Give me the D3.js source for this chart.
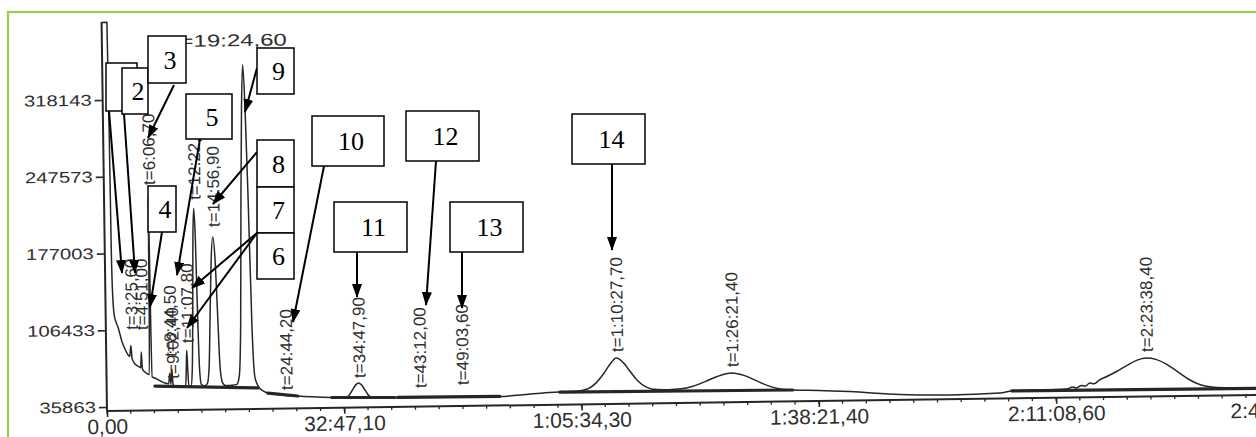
<!DOCTYPE html>
<html><head><meta charset="utf-8">
<script src="https://cdn.jsdelivr.net/npm/d3@7"></script>
<style>
html,body{margin:0;padding:0;background:#fff;}
svg{display:block;}
</style></head><body>
<svg id="chart" width="1256" height="437"></svg>
<script>
// Retention-time axis: tick positions in seconds and their printed labels
const xTickTimes  = [0, 1967.1, 3934.3, 5901.4, 7868.6, 9835.7];
const xTickLabels = ["0,00", "32:47,10", "1:05:34,30", "1:38:21,40", "2:11:08,60", "2:43:55,70"];
// Detector-signal axis ticks
const yTickValues = [35863, 106433, 177003, 247573, 318143];

// Detector trace, [time (s), signal]
const solventTrace = [
  [0, 389500], [44, 389500], [50, 300000], [54, 180000], [60, 140000], [70, 121000],
  [85, 114000], [101, 109000], [133, 95500], [160, 88000], [181, 83500], [195, 82000],
  [205.6, 92000], [214, 80000], [238, 75000], [270, 72500], [285, 71500], [291, 86000],
  [298, 70500], [318, 67500], [345, 65500], [355, 65000], [361, 120000], [366.7, 228000],
  [372, 120000], [378, 63000], [399, 61900], [440, 59500], [482, 57200], [515, 56500],
  [524, 66000], [533, 56000], [542.4, 70000], [551, 55500], [565, 54300], [600, 54000],
  [640, 53800], [655, 54000], [662, 70000], [667.8, 87000], [674, 70000], [681, 53800]
];
const earlyTrace = [
  [700, 54000], [712, 70000], [722, 120000], [732, 190000], [742, 217500], [752, 190000],
  [762, 120000], [772, 70000], [785, 55500], [810, 54000], [835, 56000], [852, 72000],
  [866, 120000], [880, 168000], [896.9, 190800], [914, 168000], [928, 120000], [942, 72000],
  [960, 57000], [985, 54000], [1040, 54200], [1080, 55000], [1100, 62000], [1118, 110000],
  [1134, 220000], [1150, 310000], [1164.6, 349000], [1179, 310000], [1195, 220000],
  [1211, 110000], [1229, 62000], [1250, 54500], [1270, 51000], [1300, 48500], [1335, 46600],
  [1400, 45300], [1480, 44200], [1583, 43500], [1700, 42600], [1865, 41700], [1975, 41400],
  [2005, 43000], [2035, 48000], [2065, 53000], [2087.9, 54700], [2112, 53000], [2142, 48000],
  [2172, 43000], [2205, 41300], [2388, 40900], [2600, 40700], [2900, 40600], [3258, 40500]
];
const lateTrace = [
  [3450, 41800], [3600, 43000], [3755, 43800], [3900, 44300], [3990, 46500], [4060, 52000],
  [4120, 60000], [4170, 68000], [4227.7, 74300], [4285, 70000], [4340, 62000], [4400, 53500],
  [4470, 47500], [4560, 44800], [4660, 44600], [4760, 45200], [4860, 47500], [4960, 51500],
  [5060, 56000], [5181.4, 59100], [5290, 56500], [5390, 51500], [5480, 47000], [5580, 43800],
  [5687, 42700], [5900, 42000], [6160, 40500], [6574, 37200], [6988, 36100], [7403, 37300],
  [7502, 38900], [7650, 39400], [7800, 39600], [7950, 40000], [8010, 41800], [8040, 40900],
  [8080, 43200], [8110, 42400], [8150, 45200], [8185, 44600], [8230, 48000], [8300, 51500],
  [8380, 56000], [8460, 61000], [8540, 65500], [8618.4, 67600], [8700, 66200], [8790, 61500],
  [8880, 54500], [8970, 47500], [9060, 42500], [9160, 40000], [9300, 39000], [9500, 38300],
  [9900, 38000]
];
// Integration baselines, [t start, signal, t end, signal]
const baseSegments = [
  [400, 54500, 1255, 51500],
  [1335, 46600, 1583, 43500],
  [1865, 41700, 2388, 40900],
  [2412, 40900, 3258, 40500],
  [3755, 43800, 5687, 42700],
  [7502, 39000, 9900, 38000]
];

// Peak annotations: retention time, printed label, signal at the label foot
const peakTimes  = [205.6, 291, 366.7, 524.5, 542.4, 667.8, 742, 896.9, 1484.2, 2087.9, 2592, 2943.6, 4227.7, 5181.4, 8618.4];
const peakLabels = ["t=3:25,60", "t=4:51,00", "t=6:06,70", "t=8:44,50", "t=9:02,40", "t=11:07,80", "t=12:22,00",
                    "t=14:56,90", "t=24:44,20", "t=34:47,90", "t=43:12,00", "t=49:03,60",
                    "t=1:10:27,70", "t=1:26:21,40", "t=2:23:38,40"];
const peakFoot   = [106400, 106200, 239400, 81200, 61000, 93700, 225100, 200000, 49200, 59300, 49200, 51500, 79800, 64500, 73100];

// Numbered call-outs: box [x, y, w, h] and arrows [x1, y1, x2, y2]
const calloutNames = ["", "2", "3", "4", "5", "9", "8", "7", "6", "10", "11", "12", "13", "14"];
const calloutBoxes = [
  [106, 63, 31, 48], [122, 68, 26, 46], [148, 36, 38, 47], [148, 186, 28, 46], [186, 94, 46, 45],
  [257, 48, 37, 46], [257, 140, 37, 47], [257, 187, 37, 46], [257, 233, 37, 46],
  [312, 116, 72, 50], [334, 202, 73, 50], [406, 111, 73, 50], [450, 202, 73, 50], [572, 114, 73, 50]
];
const calloutArrows = [
  [109, 111, 122, 273], [124, 114, 135, 273], [174, 85, 148, 138], [162, 232, 150, 307],
  [200, 139, 177, 275], [257, 68, 245, 112], [257, 152, 213, 204], [257, 233, 192, 288],
  [257, 233, 187, 328], [324, 166, 293, 322], [357, 252, 357, 297], [436, 161, 426, 305],
  [462, 252, 462, 308], [612, 164, 612, 250]
];

const svg = d3.select("#chart");
const ink = "#262626";
const sans = "Liberation Sans, Arial, sans-serif";

// page frame
svg.append("rect").attr("x", 8).attr("y", 12).attr("width", 1300).attr("height", 500)
  .attr("fill", "none").attr("stroke", "#92d050").attr("stroke-width", 2.2);

const x = d3.scaleLinear().domain([0, 9835.7]).range([107, 107 + 0.12063 * 9835.7]);
const y = d3.scaleLinear().domain([35863, 318143]).range([407, 100]);
const yTop = 22, yBase = 411;

// the printed chromatogram sits slightly rotated on the page
const plot = svg.append("g").attr("transform", "rotate(-0.8,107,411)");

// axes
const xAxis = d3.axisBottom(x).tickValues(xTickTimes).tickFormat((d, i) => xTickLabels[i])
  .tickSize(6).tickSizeOuter(0);
const gx = plot.append("g").attr("transform", `translate(0,${yBase})`).call(xAxis);
gx.select(".domain").attr("d", `M${x(0)},0H1320`).attr("stroke", ink).attr("stroke-width", 2);
gx.selectAll(".tick line").attr("stroke", ink).attr("stroke-width", 1.6);
gx.selectAll(".tick text").attr("font-family", sans)
  .attr("font-size", 21).attr("fill", "#2e2e2e").attr("y", 8)
  .attr("dx", (d, i) => i === xTickTimes.length - 1 ? -14 : 0);
// minor ticks along the time axis
const minor = d3.range(0, 9900, 1967.1 / 10);
plot.append("g").selectAll("line").data(minor).join("line")
  .attr("x1", d => x(d)).attr("x2", d => x(d)).attr("y1", yBase).attr("y2", yBase + 3)
  .attr("stroke", ink).attr("stroke-width", 1.3);

const yAxis = d3.axisLeft(y).tickValues(yTickValues).tickFormat(d3.format("d"))
  .tickSize(8).tickPadding(3).tickSizeOuter(0);
const gy = plot.append("g").attr("transform", `translate(${x(0)},0)`).call(yAxis);
gy.select(".domain").attr("d", `M0,${yBase}V${yTop}`).attr("stroke", ink).attr("stroke-width", 2);
gy.selectAll(".tick line").attr("stroke", ink).attr("stroke-width", 1.6);
gy.selectAll(".tick text").attr("font-family", sans)
  .attr("font-size", 15.5).attr("fill", "#2e2e2e")
  .attr("textLength", d => String(d).length * 11.3).attr("lengthAdjust", "spacingAndGlyphs");

// detector trace
const trace = solventTrace.concat(earlyTrace, lateTrace);
const line = d3.line().x(d => x(d[0])).y(d => y(d[1])).curve(d3.curveMonotoneX);
plot.append("path").attr("d", line(trace)).attr("fill", "none")
  .attr("stroke", ink).attr("stroke-width", 1.5).attr("stroke-linejoin", "round");

// integration baselines
plot.append("g").selectAll("line").data(baseSegments).join("line")
  .attr("x1", d => x(d[0])).attr("y1", d => y(d[1])).attr("x2", d => x(d[2])).attr("y2", d => y(d[3]))
  .attr("stroke", ink).attr("stroke-width", 3.2).attr("stroke-linecap", "round");

// retention-time labels, written upwards from the foot of each label
plot.append("g").selectAll("text").data(peakTimes).join("text")
  .attr("transform", (d, i) => `translate(${x(d) + 7},${y(peakFoot[i])}) rotate(-90)`)
  .attr("font-family", sans).attr("font-size", 17).attr("fill", "#2e2e2e")
  .text((d, i) => peakLabels[i]);
// the tallest peak carries its label across the top
plot.append("text").attr("x", 178).attr("y", 48)
  .attr("font-family", sans).attr("font-size", 17).attr("fill", "#2e2e2e")
  .attr("textLength", 114).attr("lengthAdjust", "spacingAndGlyphs")
  .text("t=19:24,60");

// call-outs
svg.append("defs").append("marker").attr("id", "head")
  .attr("viewBox", "0 0 14 10").attr("refX", 13).attr("refY", 5)
  .attr("markerWidth", 14).attr("markerHeight", 10).attr("markerUnits", "userSpaceOnUse")
  .attr("orient", "auto").append("path").attr("d", "M0,0L14,5L0,10Z").attr("fill", "#000");
const call = svg.append("g");
call.selectAll("line").data(calloutArrows).join("line")
  .attr("x1", d => d[0]).attr("y1", d => d[1]).attr("x2", d => d[2]).attr("y2", d => d[3])
  .attr("stroke", "#000").attr("stroke-width", 2).attr("marker-end", "url(#head)");
const cb = call.selectAll("g.box").data(calloutBoxes).join("g").attr("class", "box");
cb.append("rect").attr("x", d => d[0]).attr("y", d => d[1]).attr("width", d => d[2]).attr("height", d => d[3])
  .attr("fill", "#fff").attr("stroke", "#000").attr("stroke-width", 1.5);
cb.append("text").attr("x", d => d[0] + d[2] / 2 + 3).attr("y", d => d[1] + d[3] / 2 + 9)
  .attr("text-anchor", "middle").attr("font-family", "Liberation Serif, Times New Roman, serif")
  .attr("font-size", 26).attr("fill", "#000").text((d, i) => calloutNames[i]);
</script>
</body></html>
